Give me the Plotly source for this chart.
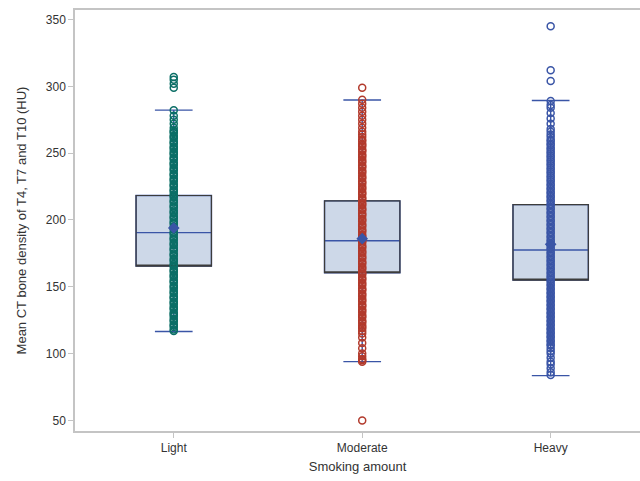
import plotly.graph_objects as go

categories = ["Light", "Moderate", "Heavy"]

# Box statistics
q1 = [165.5, 160.5, 155.0]
median = [190.5, 184.5, 177.5]
q3 = [218.3, 214.3, 211.5]
lower_fence = [116.5, 94.0, 83.5]
upper_fence = [282.2, 289.8, 289.4]
means = [194.0, 186.0, 181.8]

# Individual observations (open circles)
light_values = [117, 118, 120, 121, 122, 124, 125, 126, 128, 129, 130, 131, 133, 134, 135,
                137, 138, 139, 141, 142, 143, 145, 146, 147, 149, 150, 151, 153, 154, 155,
                157, 158, 159, 161, 162, 163, 165, 166, 167, 169, 170, 171, 173, 174, 175,
                177, 178, 179, 181, 182, 183, 185, 186, 187, 189, 190, 191, 193, 194, 195,
                197, 198, 199, 201, 202, 203, 205, 206, 207, 209, 210, 211, 213, 214, 215,
                217, 218, 219, 221, 222, 223, 225, 226, 227, 229, 230, 231, 233, 234, 235,
                237, 238, 239, 241, 242, 243, 245, 246, 247, 249, 250, 251, 253, 254, 255,
                257, 258, 259, 261, 262, 263, 265, 266, 267, 269, 272, 275, 278, 282,
                299, 302, 305, 307]
moderate_values = [50, 94, 95, 96, 98, 100, 104, 108, 112, 115, 117, 119, 120, 121, 123, 124,
                   125, 127, 128, 129, 131, 132, 133, 135, 136, 137, 139, 140, 141, 143, 144,
                   145, 147, 148, 149, 151, 152, 153, 155, 156, 157, 159, 160, 161, 163, 164,
                   165, 167, 168, 169, 171, 172, 173, 175, 176, 177, 179, 180, 181, 183, 184,
                   185, 187, 188, 189, 191, 192, 193, 195, 196, 197, 199, 200, 201, 203, 204,
                   205, 207, 208, 209, 211, 212, 213, 215, 216, 217, 219, 220, 221, 223, 224,
                   225, 227, 228, 229, 231, 232, 233, 235, 236, 237, 239, 240, 241, 243, 244,
                   245, 247, 248, 249, 251, 252, 253, 255, 256, 257, 259, 260, 262, 264,
                   266, 269, 272, 275, 278, 281, 284, 287, 290, 299]
heavy_values = [84, 86, 89, 92, 94, 97, 100, 102, 104, 106, 107, 109, 110, 112, 113, 115,
                116, 118, 119, 121, 122, 124, 125, 127, 128, 130, 131, 133, 134, 136, 137,
                139, 140, 142, 143, 145, 146, 148, 149, 151, 152, 154, 155, 157, 158, 160,
                161, 163, 164, 166, 167, 169, 170, 172, 173, 175, 176, 178, 179, 181, 182,
                184, 185, 187, 188, 190, 191, 193, 194, 196, 197, 199, 200, 202, 203, 205,
                206, 208, 209, 211, 212, 214, 215, 217, 218, 220, 221, 223, 224, 226, 227,
                229, 230, 232, 233, 235, 236, 238, 239, 241, 242, 244, 245, 247, 248, 250,
                251, 253, 254, 256, 257, 259, 260, 262, 264, 266, 268,
                272, 276, 280, 284, 286, 289, 304, 312, 345]
group_values = [light_values, moderate_values, heavy_values]
point_colors = ["#0b6e66", "#b23a2c", "#3a55a6"]

fig = go.Figure()

# Filled box with blue whiskers and median
fig.add_trace(go.Box(
    x=categories, q1=q1, median=median, q3=q3,
    lowerfence=lower_fence, upperfence=upper_fence,
    width=0.4, whiskerwidth=0.5,
    fillcolor="#cdd8e8", line=dict(color="#3a55a6", width=1.4),
    boxpoints=False, showlegend=False, hoverinfo="skip",
))
# Dark outline of the box (median placed on Q1 edge so it's hidden)
fig.add_trace(go.Box(
    x=categories, q1=q1, median=q1, q3=q3,
    lowerfence=q1, upperfence=q3,
    width=0.4, whiskerwidth=0,
    fillcolor="rgba(0,0,0,0)", line=dict(color="#3c3c3c", width=1.2),
    boxpoints=False, showlegend=False, hoverinfo="skip",
))

for cat, vals, col in zip(categories, group_values, point_colors):
    fig.add_trace(go.Scatter(
        x=[cat] * len(vals), y=vals, mode="markers",
        marker=dict(symbol="circle-open", size=7, color=col, line=dict(width=1.5)),
        showlegend=False,
    ))

fig.add_trace(go.Scatter(
    x=categories, y=means, mode="markers",
    marker=dict(symbol="diamond", size=9, color="#3a55a6"),
    showlegend=False,
))

axis_font = dict(family="Liberation Sans, Arial, sans-serif", size=12, color="#333333")
title_font = dict(family="Liberation Sans, Arial, sans-serif", size=13, color="#333333")

fig.update_layout(
    width=640, height=481,
    margin=dict(l=75, r=0, t=10, b=50),
    paper_bgcolor="white", plot_bgcolor="white",
    boxmode="overlay",
    xaxis=dict(
        type="category", categoryorder="array", categoryarray=categories,
        range=[-0.524, 2.474],
        showline=True, linecolor="#c4c4c4", linewidth=1.5, mirror=True,
        ticks="outside", ticklen=5, tickcolor="#c4c4c4",
        tickfont=axis_font, showgrid=False, zeroline=False,
        title=dict(text="Smoking amount", font=title_font, standoff=8),
    ),
    yaxis=dict(
        range=[42.1, 357.1],
        tickvals=[50, 100, 150, 200, 250, 300, 350],
        showline=True, linecolor="#c4c4c4", linewidth=1.5,
        ticks="outside", ticklen=5, tickcolor="#c4c4c4",
        tickfont=axis_font, showgrid=False, zeroline=False,
        title=dict(text="Mean CT bone density of T4, T7 and T10 (HU)", font=title_font, standoff=16),
    ),
)

fig.write_html(
    "out.html",
    config={"displayModeBar": False},
    post_script="document.body.style.margin='0';document.body.style.overflow='hidden';",
)
